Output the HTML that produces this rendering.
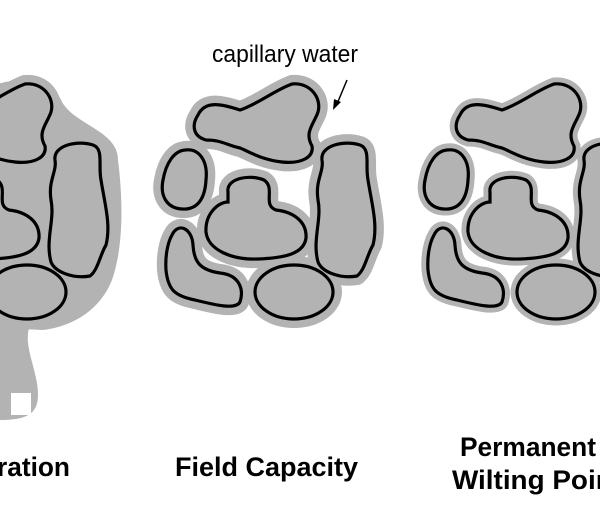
<!DOCTYPE html>
<html><head><meta charset="utf-8"><style>
html,body{margin:0;padding:0;background:#fff;width:600px;height:526px;overflow:hidden}
svg{display:block}
text{font-family:"Liberation Sans",Arial,sans-serif;fill:#000}
</style></head><body>
<svg width="600" height="526" viewBox="0 0 600 526" xmlns="http://www.w3.org/2000/svg">
<defs>
<g id="parts">
<path d="M198,115 C205,100 222,104 240,110 C258,104 275,90 292,84 C310,82 322,98 318,112 C314,124 304,132 312,146 C314,158 300,164 282,162 C262,160 250,152 240,148 C226,145 222,140 206,140 C192,136 192,124 198,115 Z"/>
<path d="M185,150 C200,148 208,162 206,180 C205,198 198,210 182,209 C166,208 160,195 163,180 C166,163 174,151 185,150 Z"/>
<path d="M228,192 C226,178 250,174 264,180 C276,188 262,205 276,210 C294,212 307,222 306,238 C304,254 284,258 258,259 C232,260 208,250 206,232 C205,214 218,202 228,202 Z"/>
<path d="M322,160 C320,145 345,140 360,145 C371,149 365,165 368,180 C372,205 378,225 373,245 C367,255 365,270 357,276 C340,279 322,272 318,262 C312,240 322,220 318,200 C315,180 324,172 322,160 Z"/>
<path d="M172,235 C178,222 192,228 193,245 C194,262 200,270 220,273 C240,275 244,290 240,302 C236,310 215,305 195,300 C175,296 168,290 166,270 C165,255 168,242 172,235 Z"/>
<ellipse cx="294" cy="292" rx="39" ry="27"/>
</g>
</defs>
<g transform="translate(-267,0)">
<path d="M190,110 C200,85 240,90 262,85 C290,75 320,80 328,100 C340,125 385,130 385,160 C390,200 390,240 382,270 C375,300 350,325 310,330 L195,325 C165,320 155,300 155,270 C155,230 150,180 160,150 C168,125 185,120 190,110 Z" fill="#b3b3b3"/>
<use href="#parts" fill="#b3b3b3" stroke="#b3b3b3" stroke-width="18" stroke-linejoin="round"/>
<use href="#parts" fill="#b3b3b3" stroke="#000" stroke-width="3.2"/>
</g>
<path d="M0,325 L30,325 C22,345 38,370 38,395 C38,415 25,420 0,420 Z" fill="#b3b3b3"/>
<rect x="11" y="393" width="20" height="22" fill="#fff"/>
<g>
<use href="#parts" fill="#b3b3b3" stroke="#b3b3b3" stroke-width="18" stroke-linejoin="round"/>
<use href="#parts" fill="#b3b3b3" stroke="#000" stroke-width="3.2"/>
</g>
<g transform="translate(262,0)">
<use href="#parts" fill="#b3b3b3" stroke="#b3b3b3" stroke-width="13" stroke-linejoin="round"/>
<use href="#parts" fill="#b3b3b3" stroke="#000" stroke-width="3.2"/>
</g>
<text x="212" y="62" font-size="24" textLength="146" lengthAdjust="spacingAndGlyphs">capillary water</text>
<line x1="347" y1="80" x2="337" y2="104" stroke="#000" stroke-width="1.5"/>
<path d="M333,110 L334,99 L341,102 Z" fill="#000"/>
<text x="-3" y="476" font-size="27" font-weight="bold" textLength="73" lengthAdjust="spacingAndGlyphs">ration</text>
<text x="175" y="476" font-size="27" font-weight="bold" textLength="183" lengthAdjust="spacingAndGlyphs">Field Capacity</text>
<text x="460" y="456" font-size="27" font-weight="bold" textLength="136" lengthAdjust="spacingAndGlyphs">Permanent</text>
<text x="452" y="489" font-size="27" font-weight="bold" textLength="170" lengthAdjust="spacingAndGlyphs">Wilting Point</text>
</svg>
</body></html>
